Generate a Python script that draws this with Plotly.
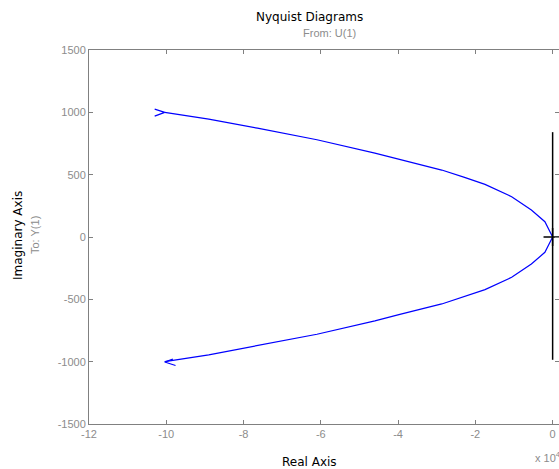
import plotly.graph_objects as go

# Data (real part in units of 1e4, imaginary part)
re_upper = [-10.04, -8.9, -7.64, -6.1, -4.6, -3.98, -2.87, -2.3, -1.75, -1.06, -0.55, -0.20, -0.06, 0.0]
im_upper = [1000, 945, 873, 780, 673, 623, 537, 480, 422, 323, 216, 123, 40, 0]
re_lower = [0.0, -0.06, -0.20, -0.55, -1.06, -1.75, -2.3, -2.87, -3.98, -4.6, -6.1, -7.64, -8.9, -10.04]
im_lower = [0, -40, -123, -216, -323, -422, -480, -537, -623, -673, -780, -873, -945, -1000]

arrow_up_re = [-10.30, -10.04, -10.30]
arrow_up_im = [1026, 1000, 970]
arrow_lo_re = [-9.83, -10.04, -9.76]
arrow_lo_im = [-980, -1003, -1031]

vline_re = [0.0, 0.0]
vline_im = [841, -985]
crit_re = [0.0]
crit_im = [0.0]

xticks = [-12, -10, -8, -6, -4, -2, 0]
yticks = [-1500, -1000, -500, 0, 500, 1000, 1500]

BLUE = "#0000ff"
GRAY = "#808080"
LGRAY = "#8c8c8c"
FONT = "Liberation Sans, Arial, sans-serif"
LFONT = "DejaVu Sans, Liberation Sans, sans-serif"

fig = go.Figure()
for xs, ys in [(re_upper, im_upper), (re_lower, im_lower),
               (arrow_up_re, arrow_up_im), (arrow_lo_re, arrow_lo_im)]:
    fig.add_trace(go.Scatter(x=xs, y=ys, mode="lines",
                             line=dict(color=BLUE, width=1.2), showlegend=False,
                             hoverinfo="skip"))
fig.add_trace(go.Scatter(x=vline_re, y=vline_im, mode="lines",
                         line=dict(color="black", width=1.5), showlegend=False))
fig.add_trace(go.Scatter(x=crit_re, y=crit_im, mode="markers",
                         marker=dict(symbol="cross-thin", size=13,
                                     line=dict(color="black", width=1.5)),
                         showlegend=False))
# invisible trace to carry right-side mirrored y ticks
fig.add_trace(go.Scatter(x=[None], y=[None], yaxis="y2", showlegend=False))

fig.update_layout(
    width=559, height=469,
    margin=dict(l=89, r=0, t=50, b=45),
    paper_bgcolor="white", plot_bgcolor="white",
    font=dict(family=FONT, size=11, color=LGRAY),
    xaxis=dict(range=[-12, 0.165], tickvals=xticks, ticktext=[str(v) for v in xticks],
               showgrid=False, zeroline=False, showline=True, linecolor=GRAY,
               linewidth=1, mirror="ticks", ticks="inside", ticklen=4,
               tickcolor=GRAY, tickfont=dict(size=11, color=LGRAY)),
    yaxis=dict(range=[-1500, 1500], tickvals=yticks, ticktext=[str(v) for v in yticks],
               showgrid=False, zeroline=False, showline=True, linecolor=GRAY,
               linewidth=1, mirror=False, ticks="inside", ticklen=4,
               tickcolor=GRAY, tickfont=dict(size=11, color=LGRAY)),
    yaxis2=dict(range=[-1500, 1500], tickvals=yticks, overlaying="y", side="right",
                showgrid=False, zeroline=False, showline=False, ticks="inside",
                ticklen=4, tickcolor=GRAY, showticklabels=False),
)

annotations = [
    dict(text="Nyquist Diagrams", x=309, y=17, size=12, color="black", angle=0, f=LFONT),
    dict(text="From: U(1)", x=329, y=33, size=11, color=LGRAY, angle=0, f=FONT),
    dict(text="Real Axis", x=309, y=462, size=12, color="black", angle=0, f=LFONT),
    dict(text="Imaginary Axis", x=18, y=236, size=12, color="black", angle=-90, f=LFONT),
    dict(text="To: Y(1)", x=35, y=235, size=11, color=LGRAY, angle=-90, f=FONT),
]
for a in annotations:
    fig.add_annotation(text=a["text"], xref="paper", yref="paper",
                       x=(a["x"] - 89) / 470, y=(424 - a["y"]) / 374,
                       xanchor="center", yanchor="middle", showarrow=False,
                       textangle=a["angle"],
                       font=dict(family=a["f"], size=a["size"], color=a["color"]))
fig.add_annotation(text="x 10<sup>4</sup>", xref="paper", yref="paper",
                   x=(533 - 89) / 470, y=(424 - 457) / 374, xanchor="left",
                   yanchor="middle", showarrow=False,
                   font=dict(family=FONT, size=11, color=LGRAY))

fig.write_html("out.html")
